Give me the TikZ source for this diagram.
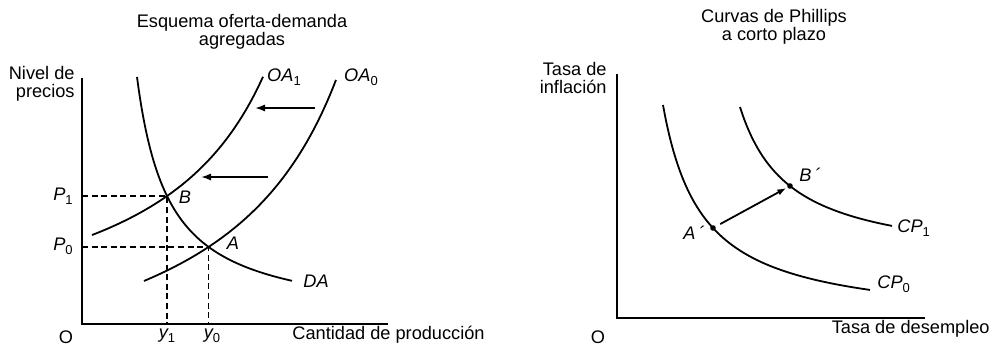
\documentclass[tikz,border=0pt]{standalone}
\usepackage{fontspec}
\setmainfont{Liberation Sans}
\usetikzlibrary{arrows.meta,intersections}
\newcommand\lowsub[1]{\raisebox{-0.45ex}{\fontsize{6.5}{7}\selectfont\upshape #1}}
\begin{document}
\begin{tikzpicture}[x=0.5pt,y=-0.5pt,
  txt/.style={font=\fontsize{9.1}{9}\selectfont, inner sep=0pt},
  lab/.style={font=\fontsize{9.1}{9}\selectfont\itshape, inner sep=0pt},
  axis/.style={line width=1pt},
  curve/.style={line width=0.9pt},
  guide/.style={line width=0.75pt, dash pattern=on 3pt off 1.8pt},
  shiftarrow/.style={line width=0.9pt, -{Latex[length=5pt,width=3.6pt]}},
  dot/.style={circle, fill, inner sep=0pt, minimum size=2.8pt}]
\useasboundingbox (0,0) rectangle (992,349);
% ---------- left panel ----------
\coordinate (LO) at (82,324);
\coordinate (Ltop) at (82,78);
\coordinate (Lright) at (388,324);
\draw[axis] (Ltop) -- (LO) -- (Lright);
\draw[curve, name path=da] plot[domain=137:292, samples=80, smooth] (\x, {322.9-7870/(\x-105)});
\draw[curve, name path=oa1] plot[domain=92:263, samples=80, smooth] (\x, {348.9-334.76/((386-\x)/100)});
\draw[curve, name path=oa0] plot[domain=144:336, samples=80, smooth] (\x, {416.1-433.76/((465-\x)/100)});
\path[name intersections={of=da and oa1, by=B}];
\path[name intersections={of=da and oa0, by=A}];
\draw[guide] (B -| LO) -- (B) -- (B |- LO);
\draw[guide] (A -| LO) -- (A) -- (A |- LO);
\coordinate (a1s) at (315,108);
\coordinate (a1e) at (255,108);
\coordinate (a2s) at (268,177);
\coordinate (a2e) at (201,177);
\draw[shiftarrow] (a1s) -- (a1e);
\draw[shiftarrow] (a2s) -- (a2e);
\node[txt, align=center] (t1) at (242,32) {Esquema oferta-demanda\\agregadas};
\node[txt, align=right, anchor=east] (ylabL) at (75,84) {Nivel de\\precios};
\node[lab] (p1) at (63,196) {P\lowsub{1}};
\node[lab] (p0) at (63,246) {P\lowsub{0}};
\node[txt] (oL) at (66,337) {O};
\node[lab] (y1) at (167,336) {y\lowsub{1}};
\node[lab] (y0) at (212,336) {y\lowsub{0}};
\node[txt, anchor=west] (xlabL) at (292,335) {Cantidad de producción};
\node[lab] (oa1l) at (284,77) {OA\lowsub{1}};
\node[lab] (oa0l) at (361,77) {OA\lowsub{0}};
\node[lab] (dal) at (316,281) {DA};
\node[lab] (bl) at (185,197) {B};
\node[lab] (al) at (233,243) {A};
% ---------- right panel ----------
\coordinate (RO) at (617,318);
\coordinate (Rtop) at (617,74);
\coordinate (Rright) at (925,318);
\draw[axis] (Rtop) -- (RO) -- (Rright);
\draw[curve] plot[domain=663:870, samples=80, smooth] (\x, {325.2-8697/(\x-623.5)});
\draw[curve] plot[domain=740:892, samples=80, smooth] (\x, {265-7900/(\x-690)});
\coordinate (Ap) at (713,228);
\coordinate (Bp) at (790,186);
\node[dot] (apd) at (Ap) {};
\node[dot] (bpd) at (Bp) {};
\draw[shiftarrow, shorten <=2.5pt, shorten >=0.5pt, -{Latex[length=4.5pt,width=3.2pt]}] (apd) -- (bpd);
\node[txt, align=center] (t2) at (774,27) {Curvas de Phillips\\a corto plazo};
\node[txt, align=right, anchor=east] (ylabR) at (607,78) {Tasa de\\inflación};
\node[txt] (oR) at (598,337) {O};
\node[txt, anchor=east] (xlabR) at (990,329) {Tasa de desempleo};
\node[lab, anchor=west] (cp1) at (897,228) {CP\lowsub{1}};
\node[lab, anchor=west] (cp0) at (877,284) {CP\lowsub{0}};
\node[lab] (apl) at (694,233) {A\,´};
\node[lab] (bpl) at (810,175) {B\,´};
\end{tikzpicture}
\end{document}
